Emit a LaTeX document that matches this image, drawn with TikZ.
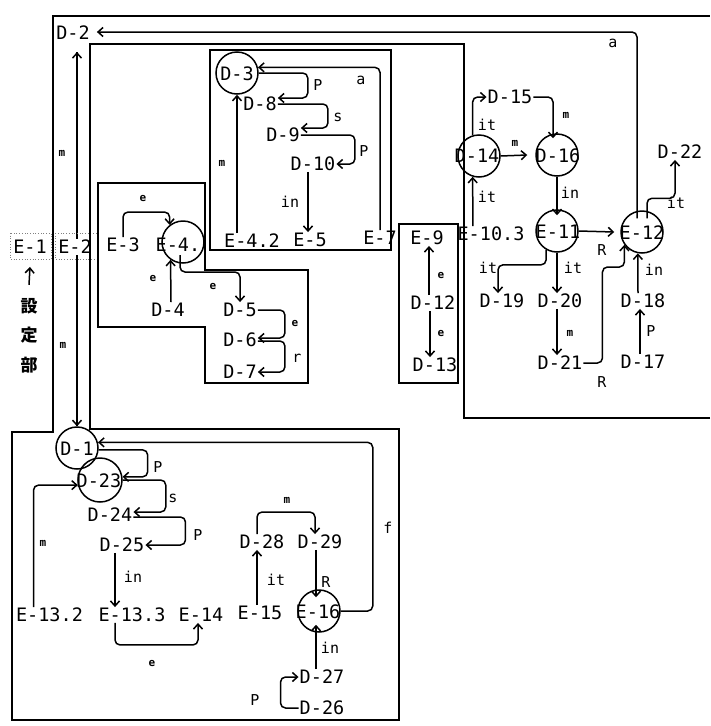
\documentclass[tikz,border=0pt]{standalone}
\usepackage{fontspec}
\usetikzlibrary{arrows.meta}
\newfontfamily\monofnt{DejaVu Sans Mono}
\newfontfamily\cjkfnt{Noto Sans CJK JP}
\tikzset{
  txt/.style={font=\monofnt\fontsize{18.5}{20}\selectfont, inner sep=1pt, text height=13.5pt, text depth=0pt},
  lab/.style={font=\monofnt\fontsize{15}{16}\selectfont, inner sep=0pt},
  tiny/.style={font=\monofnt\bfseries\fontsize{11}{12}\selectfont, inner sep=0pt},
  cjk/.style={font=\cjkfnt\bfseries\fontsize{17}{18}\selectfont, inner sep=0pt},
  circ/.style={circle, draw, line width=1.5pt, minimum size=42pt, inner sep=0pt},
  arr/.style={line width=1.5pt, -{Straight Barb[length=5pt,width=9pt]}, rounded corners=5pt},
  frame/.style={line width=2.2pt, line join=miter},
  dotbox/.style={dotted, gray, line width=0.7pt}
}
\begin{document}
\begin{tikzpicture}[x=1pt,y=-1pt]
\fill[white] (0,0) rectangle (710,726);
\useasboundingbox (0,0) rectangle (710,726);

% ---------- nodes ----------
\node[txt] (D2) at (73,33) {D-2};
\node[txt] (E1) at (30,247) {E-1};
\node[cjk] (S1) at (29,306) {設};
\node[cjk] (S2) at (29,335) {定};
\node[cjk] (S3) at (29,365) {部};

\node[txt] (E3) at (123,245) {E-3};
\node[circ] (E4c) at (183,242) {};
\node[txt] (E4) at (178,245) {E-4.};
\node[txt] (D4) at (168,310) {D-4};
\node[txt] (D5) at (240,310) {D-5};
\node[txt] (D6) at (240,340) {D-6};
\node[txt] (D7) at (240,372) {D-7};

\node[circ] (D3c) at (237,73) {};
\node[txt] (D3) at (237,74) {D-3};
\node[txt] (D8) at (260,104) {D-8};
\node[txt] (D9) at (283,135) {D-9};
\node[txt] (D10) at (313,164) {D-10};
\node[txt] (E42) at (252,241) {E-4.2};
\node[txt] (E5) at (310,240) {E-5};
\node[txt] (E7) at (380,238) {E-7};

\node[txt] (E9) at (427,238) {E-9};
\node[txt] (D12) at (433,303) {D-12};
\node[txt] (D13) at (435,365) {D-13};

\node[txt] (E103) at (491,234) {E-10.3};
\node[txt] (D15) at (510,97) {D-15};
\node[circ] (D14c) at (479,156) {};
\node[txt] (D14) at (477,156) {D-14};
\node[circ] (D16c) at (557,155) {};
\node[txt] (D16) at (558,156) {D-16};
\node[circ] (E11c) at (557,231) {};
\node[txt] (E11) at (558,232) {E-11};
\node[circ] (E12c) at (642,232) {};
\node[txt] (E12) at (642,233) {E-12};
\node[txt] (D22) at (680,152) {D-22};
\node[txt] (D19) at (502,301) {D-19};
\node[txt] (D20) at (560,301) {D-20};
\node[txt] (D21) at (560,363) {D-21};
\node[txt] (D18) at (643,301) {D-18};
\node[txt] (D17) at (643,362) {D-17};

\node[circ] (D1c) at (77,448) {};
\node[txt] (D1) at (77,449) {D-1};
\node[circ, minimum size=44pt] (D23c) at (100,480) {};
\node[txt] (D23) at (99,481) {D-23};
\node[txt] (D24) at (110,515) {D-24};
\node[txt] (D25) at (122,545) {D-25};
\node[txt] (E132) at (49.5,615) {E-13.2};
\node[txt] (E133) at (132,615) {E-13.3};
\node[txt] (E14) at (201,615) {E-14};
\node[txt] (E15) at (260,613) {E-15};
\node[circ] (E16c) at (319,611) {};
\node[txt] (E16) at (318,612) {E-16};
\node[txt] (D28) at (262,542) {D-28};
\node[txt] (D29) at (320,542) {D-29};
\node[txt] (D27) at (322,677) {D-27};
\node[txt] (D26) at (322,708) {D-26};

\coordinate (D2b) at (77,52);

% ---------- connectors ----------
% D-2 <-> D-1
\draw[arr] (D1c.north) -- (D2b);
\draw[arr] (D2b) -- (D1c.north);
\node[tiny] (L1) at (62,153) {m};
\node[tiny] (L2) at (63,345) {m};
% E-12 -> D-2 (a)
\draw[arr] ([xshift=-5pt,yshift=-8pt]E12c.north) |- ([xshift=6pt,yshift=1pt]D2.east);
\node[lab] (L3) at (613,43) {a};
% E-12 -> D-22 (it)
\draw[arr] ([xshift=5pt,yshift=-8pt]E12c.north) -- ++(0,-20) -| ([xshift=-5pt]D22.south);
\node[lab] (L4) at (676,203) {it};

% box A
\draw[arr] (E7.north) |- (D3c.15);
\node[lab] (L5) at (361,80) {a};
\draw[arr] (D3c.east) -- ++(49,0) |- ([yshift=6pt]D8.east);
\node[lab] (L6) at (318,85) {P};
\draw[arr] (D8.east) -- ++(50,0) |- ([yshift=7pt]D9.east);
\node[lab] (L7) at (338,117) {s};
\draw[arr] (D9.east) -- ++(54,0) |- (D10.east);
\node[lab] (L8) at (364,151) {P};
\draw[arr] ([xshift=-5pt]D10.south) -- ([xshift=-2pt]E5.north);
\node[lab] (L9) at (290,202) {in};
\draw[arr] ([xshift=-15pt]E42.north) -- (D3c.south);
\node[tiny] (L10) at (222,163) {m};

% box B
\draw[arr] (E3.north) -- ++(0,-25) -| (E4c.128);
\node[tiny] (L11) at (143,198) {e};
\draw[arr] ([xshift=3pt]D4.north) -- (E4c.235);
\node[tiny] (L12) at (153,278) {e};
\draw[arr] ([xshift=-3pt,yshift=-13pt]E4c.center) -- ++(0,17) -| (D5.north);
\node[tiny] (L13) at (213,286) {e};
\draw[arr] (D5.east) -- ++(27,0) |- ([yshift=2pt]D6.east);
\node[tiny] (L14) at (295,323) {e};
\draw[arr] ([yshift=-1pt]D6.east) -- ++(27,0) |- (D7.east);
\node[lab] (L15) at (297,358) {r};

% box E-9
\draw[arr] ([xshift=-4pt]D12.north) -- ([xshift=2pt]E9.south);
\node[tiny] (L16) at (441,275) {e};
\draw[arr] ([xshift=-3pt]D12.south) -- ([xshift=-5pt]D13.north);
\node[tiny] (L17) at (441,333) {e};

% right region
\draw[arr] ([xshift=-18.1pt]E103.north) -- (D14c.253);
\node[lab] (L18) at (487,197) {it};
\draw[arr] (D14c.107) |- (D15.west);
\node[lab] (L19) at (487,125) {it};
\draw[arr] (D14c.east) -- ([xshift=-8pt]D16c.west);
\node[tiny] (L20) at (515,143) {m};
\draw[arr] (D15.east) -| ([xshift=-4pt,yshift=-5pt]D16c.north);
\node[tiny] (L21) at (566,115) {m};
\draw[arr] (D16c.south) -- ([yshift=-6pt]E11c.north);
\node[lab] (L22) at (570,193) {in};
\draw[arr] (E11c.east) -- ([xshift=-6pt]E12c.west);
\node[lab] (L23) at (602,250) {R};
\draw[arr] (E11c.240) -- ++(0,15) -| ([xshift=-4pt]D19.north);
\node[lab] (L24) at (488,268) {it};
\draw[arr] (E11c.south) -- ([xshift=-3pt]D20.north);
\node[lab] (L25) at (573,268) {it};
\draw[arr] ([xshift=-3pt]D20.south) -- ([xshift=-3pt]D21.north);
\node[tiny] (L26) at (570,333) {m};
\draw[arr] (D21.east) -- ++(19,0) -- ++(0,-96) -| (E12c.216);
\node[lab] (L27) at (602,382) {R};
\draw[arr] ([xshift=-5pt]D18.north) -- (E12c.259);
\node[lab] (L28) at (654,270) {in};
\draw[arr] ([xshift=-3pt]D17.north) -- ([xshift=-3pt]D18.south);
\node[lab] (L29) at (651,331) {P};

% bottom box
\draw[arr] (D1c.-5) -- ++(49,0) |- (D23c.8);
\node[lab] (L30) at (158,467) {P};
\draw[arr] (D23c.east) -- ++(43,0) |- ([yshift=3pt]D24.east);
\node[lab] (L31) at (173,498) {s};
\draw[arr] ([yshift=-2pt]D24.east) -- ++(52,0) |- (D25.east);
\node[lab] (L32) at (198,535) {P};
\draw[arr] ([xshift=-7pt]D25.south) -- ([xshift=-17pt]E133.north);
\node[lab] (L33) at (133,577) {in};
\draw[arr] ([xshift=-16pt]E132.north) |- (D23c.193);
\node[tiny] (L34) at (43,543) {m};
\draw[arr] ([xshift=-17pt]E133.south) -- ++(0,22) -| ([xshift=-3pt]E14.south);
\node[tiny] (L35) at (152,663) {e};
\draw[arr] (E16c.east) -- ++(32,0) |- (D1c.15);
\node[lab] (L36) at (388,528) {f};
\draw[arr] ([xshift=-3pt]E15.north) -- ([xshift=-5pt]D28.south);
\node[lab] (L37) at (276,580) {it};
\draw[arr] ([xshift=-5pt]D28.north) -- ++(0,-22) -| ([xshift=-5pt]D29.north);
\node[tiny] (L38) at (287,500) {m};
\draw[arr] ([xshift=-4pt]D29.south) -- ([xshift=-3pt,yshift=-8pt]E16c.north);
\node[lab] (L39) at (326,582) {R};
\draw[arr] ([xshift=-6pt]D27.north) -- ([xshift=-3pt,yshift=8pt]E16c.south);
\node[lab] (L40) at (330,648) {in};
\draw[arr] (D26.west) -- ++(-18,0) |- (D27.west);
\node[lab] (L41) at (255,700) {P};

% E-1 / setting part
\draw[arr] ([yshift=13pt]S1.north) -- ([yshift=-12pt]E1.south);
\node[txt, fill=white] (E2) at (75,247) {E-2};
\draw[dotbox] (10,233) rectangle (51,259);
\draw[dotbox] (55,233) rectangle (97,259);

% ---------- frames ----------
\draw[frame] (710,418) -- (464,418) -- (464,44) -- (90,44) -- (90,429) -- (399,429)
  -- (399,720) -- (12,720) -- (12,432) -- (53,432) -- (53,16) -- (710,16);
\draw[frame] (210,50) rectangle (391,250);
\draw[frame] (98,183) -- (205,183) -- (205,270) -- (308,270) -- (308,383)
  -- (205,383) -- (205,327) -- (98,327) -- cycle;
\draw[frame] (399,224) rectangle (458,383);
\end{tikzpicture}
\end{document}
